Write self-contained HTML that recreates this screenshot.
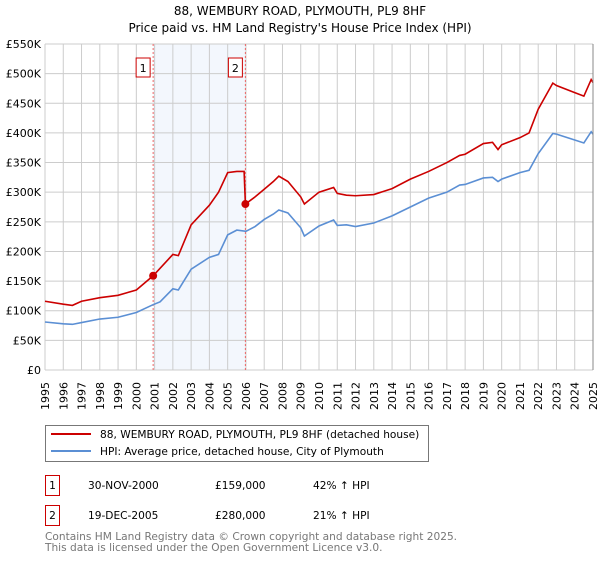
<!DOCTYPE html>
<html><head><meta charset="utf-8"><style>
body{margin:0;background:#fff;font-family:"DejaVu Sans","Liberation Sans",sans-serif;}
</style></head><body>
<svg width="600" height="560" xmlns="http://www.w3.org/2000/svg" font-family="DejaVu Sans, Liberation Sans, sans-serif">
<text x="300" y="15" text-anchor="middle" font-size="12">88, WEMBURY ROAD, PLYMOUTH, PL9 8HF</text>
<text x="300" y="32" text-anchor="middle" font-size="12">Price paid vs. HM Land Registry's House Price Index (HPI)</text>
<g id="plot"></g>
<rect x="45.5" y="425.5" width="383" height="36" fill="#fff" stroke="#777"/>
<line x1="51" y1="434" x2="91" y2="434" stroke="#cc0000" stroke-width="2"/>
<text x="100" y="438" font-size="10.6">88, WEMBURY ROAD, PLYMOUTH, PL9 8HF (detached house)</text>
<line x1="51" y1="451" x2="91" y2="451" stroke="#5b8fd4" stroke-width="2"/>
<text x="100" y="455" font-size="10.6">HPI: Average price, detached house, City of Plymouth</text>
<g font-size="10.6">
<rect x="45.5" y="475.5" width="14" height="20" fill="#fff" stroke="#cc0000"/>
<text x="52.5" y="489" text-anchor="middle">1</text>
<text x="88" y="489">30-NOV-2000</text><text x="215" y="489">£159,000</text><text x="313" y="489">42% ↑ HPI</text></g>
<g font-size="10.6">
<rect x="45.5" y="505.5" width="14" height="20" fill="#fff" stroke="#cc0000"/>
<text x="52.5" y="519" text-anchor="middle">2</text>
<text x="88" y="519">19-DEC-2005</text><text x="215" y="519">£280,000</text><text x="313" y="519">21% ↑ HPI</text></g>
<text x="45" y="540" font-size="10.6" fill="#777">Contains HM Land Registry data © Crown copyright and database right 2025.</text>
<text x="45" y="551" font-size="10.6" fill="#777">This data is licensed under the Open Government Licence v3.0.</text>
</svg>
<script>
const redYears=[1995,1996,1996.5,1997,1998,1999,2000,2000.92,2002,2002.3,2003,2004,2004.5,2005,2005.5,2005.9,2005.97,2006.5,2007,2007.5,2007.8,2008.3,2009,2009.2,2010,2010.8,2011,2011.5,2012,2013,2014,2015,2016,2017,2017.7,2018,2019,2019.5,2019.8,2020,2021,2021.5,2022,2022.8,2023,2024,2024.5,2024.9,2025];
const redVals=[116,111,109,116,122,126,135,159,195,193,245,278,300,333,335,335,280,292,305,318,327,318,292,280,300,308,298,295,294,296,306,322,335,350,362,364,382,384,372,380,392,400,440,484,480,468,462,490,485];
const hpiYears=[1995,1996,1996.5,1997,1998,1999,2000,2000.9,2001.3,2002,2002.3,2003,2004,2004.5,2005,2005.5,2006,2006.5,2007,2007.5,2007.8,2008.3,2009,2009.2,2010,2010.8,2011,2011.5,2012,2013,2014,2015,2016,2017,2017.7,2018,2019,2019.5,2019.8,2020,2021,2021.5,2022,2022.8,2023,2024,2024.5,2024.9,2025];
const hpiVals=[81,78,77,80,86,89,97,110,115,137,135,170,190,195,228,236,234,242,254,263,270,265,240,226,243,253,244,245,242,248,260,275,290,300,312,313,324,325,318,322,333,337,365,399,398,388,383,402,398];
const saleYears=[2000.92,2005.97];
const saleVals=[159,280];
const saleLabels=["1","2"];
const yTicks=[0,50,100,150,200,250,300,350,400,450,500,550];
const yTickLabels=["£0","£50K","£100K","£150K","£200K","£250K","£300K","£350K","£400K","£450K","£500K","£550K"];
const xTicks=[1995,1996,1997,1998,1999,2000,2001,2002,2003,2004,2005,2006,2007,2008,2009,2010,2011,2012,2013,2014,2015,2016,2017,2018,2019,2020,2021,2022,2023,2024,2025];

const L=45,R=593,T=44,B=370;
const X=y=>L+(y-1995)/30*(R-L);
const Y=v=>B-v/550*(B-T);
const NS="http://www.w3.org/2000/svg";
const g=document.getElementById('plot');
function mk(t,a){const e=document.createElementNS(NS,t);for(const k in a)e.setAttribute(k,a[k]);g.appendChild(e);return e;}
let e=mk('rect',{x:X(saleYears[0]),y:T,width:X(saleYears[1])-X(saleYears[0]),height:B-T,fill:'#eef3fc',opacity:0.7});


yTicks.forEach((v,i)=>{
 let l=mk('line',{x1:L,x2:R,y1:Y(v),y2:Y(v),stroke:'#ccc'});
 
 
 let t=mk('text',{x:L-4,y:Y(v)+4,'text-anchor':'end','font-size':11});
 
 
 t.textContent=yTickLabels[i];
});
xTicks.forEach(yr=>{
 let l=mk('line',{x1:X(yr),x2:X(yr),y1:T,y2:B,stroke:'#ccc'});
 
 
 let t=mk('text',{x:0,y:0,'text-anchor':'end','font-size':11,transform:`translate(${X(yr)+4},${B+12}) rotate(-90)`});
 
 
 t.textContent=yr;
});
saleYears.forEach((yr,i)=>{
 let l=mk('line',{x1:X(yr),x2:X(yr),y1:T,y2:B,stroke:'#e66','stroke-dasharray':'2,2'});
 
 
 let r=mk('rect',{x:X(yr)-17,y:58,width:14,height:19,fill:'#fff',stroke:'#cc0000'});
 
 
 let t=mk('text',{x:X(yr)-10,y:72,'text-anchor':'middle','font-size':11});
 
 
 t.textContent=saleLabels[i];
});
function line(xs,vs,c,n){
 let p=mk('polyline',{points:xs.map((x,i)=>X(x)+','+Y(vs[i])).join(' '),fill:'none',stroke:c,'stroke-width':1.6});
 
 
}
line(hpiYears,hpiVals,'#5b8fd4','hpi-line');
line(redYears,redVals,'#cc0000','price-line');
saleYears.forEach((yr,i)=>{
 let c=mk('circle',{cx:X(yr),cy:Y(saleVals[i]),r:4,fill:'#cc0000'});
 
 
});
let ax=mk('line',{x1:R,x2:R,y1:T,y2:B,stroke:'#888'});


</script>
</body></html>
